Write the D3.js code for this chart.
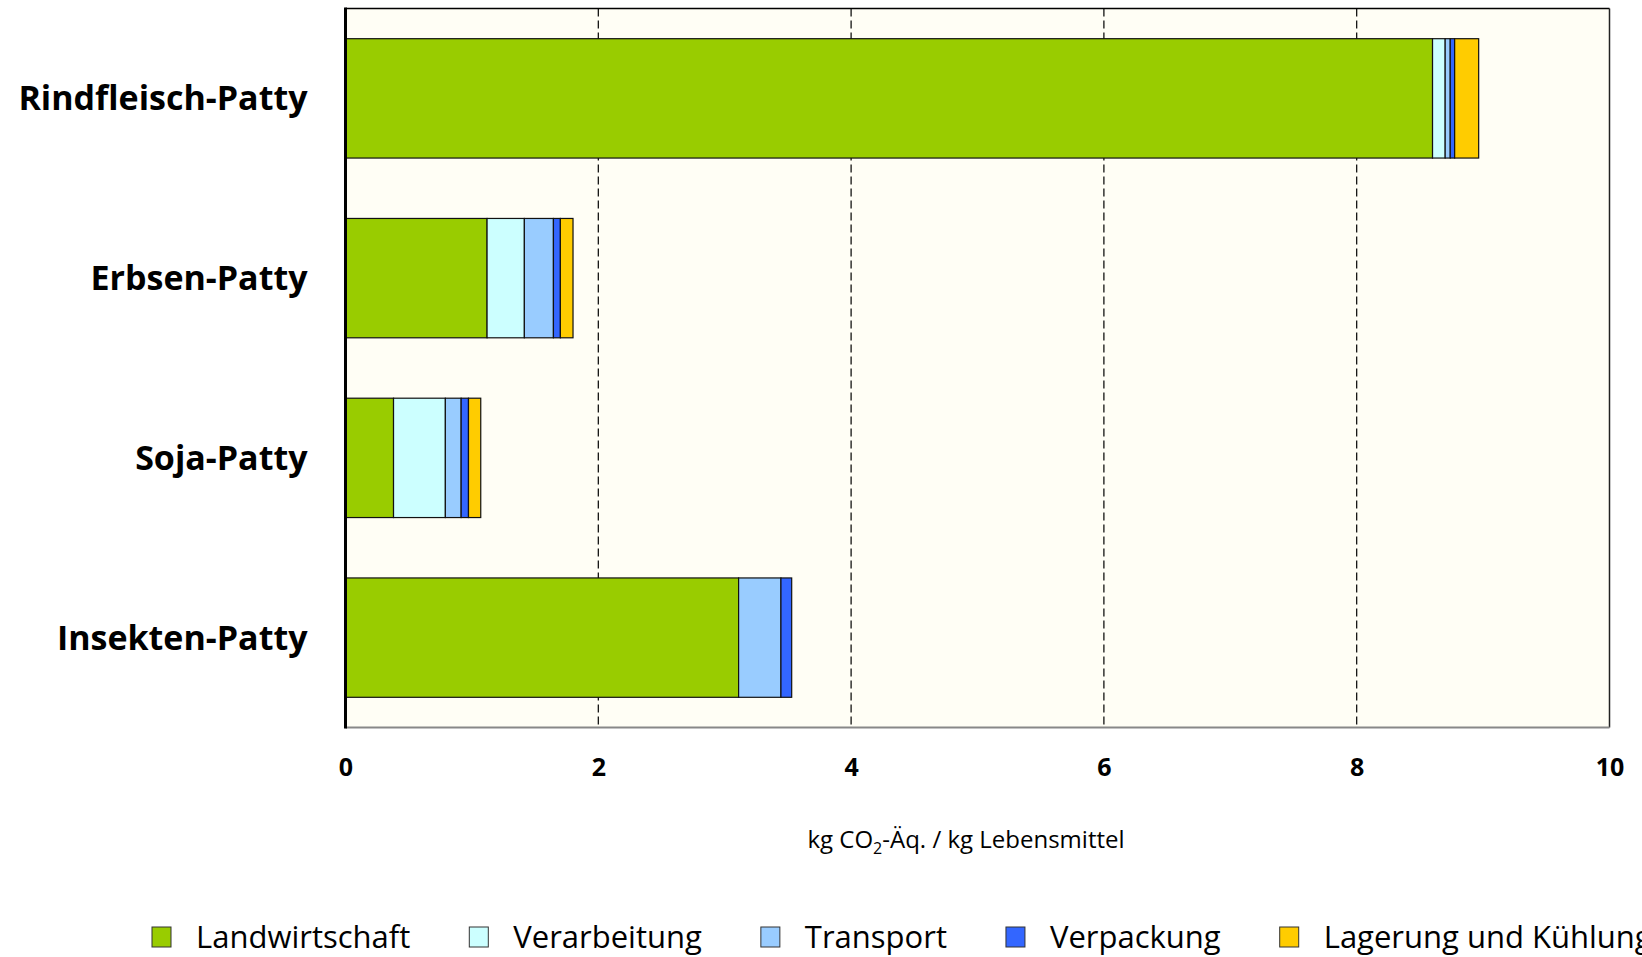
<!DOCTYPE html>
<html>
<head>
<meta charset="utf-8">
<script src="https://cdn.jsdelivr.net/npm/d3@7"></script>
<style>
  html, body { margin: 0; padding: 0; background: #ffffff; }
  svg { display: block; }
</style>
</head>
<body>
<svg id="chart" width="1642" height="957"></svg>
<script>
// Greenhouse-gas footprint of burger patties by life-cycle stage
const categories = ["Rindfleisch-Patty", "Erbsen-Patty", "Soja-Patty", "Insekten-Patty"];
const stages = ["Landwirtschaft", "Verarbeitung", "Transport", "Verpackung", "Lagerung und Kühlung"];
const landwirtschaft = [8.60, 1.12, 0.38, 3.11];
const verarbeitung   = [0.10, 0.295, 0.41, 0.00];
const transport      = [0.04, 0.23, 0.125, 0.335];
const verpackung     = [0.035, 0.055, 0.058, 0.085];
const lagerung       = [0.19, 0.10, 0.097, 0.00];
const xTicks = [0, 2, 4, 6, 8, 10];
const stageColors = ["#99CC00", "#CCFFFF", "#99CCFF", "#3366FF", "#FFCC00"];

const seriesValues = [landwirtschaft, verarbeitung, transport, verpackung, lagerung];
const rows = categories.map((c, i) => {
  const r = { category: c };
  stages.forEach((s, k) => { r[s] = seriesValues[k][i]; });
  return r;
});

const svg = d3.select("#chart");
const plot = { left: 345.5, right: 1609.5, top: 8.5, bottom: 727.5 };
const font = "'Open Sans', Lato, sans-serif";

const x = d3.scaleLinear().domain([0, 10]).range([plot.left, plot.right]);
const y = d3.scaleBand().domain(categories).range([plot.top, plot.bottom])
  .paddingInner(0.336).paddingOuter(0.168);

// plot background
svg.append("rect")
  .attr("x", plot.left).attr("y", plot.top)
  .attr("width", plot.right - plot.left).attr("height", plot.bottom - plot.top)
  .attr("fill", "#FFFEF5");

// dashed vertical gridlines
svg.append("g").selectAll("line")
  .data(xTicks.filter(t => t > 0 && t < 10))
  .join("line")
  .attr("x1", d => x(d)).attr("x2", d => x(d))
  .attr("y1", plot.top).attr("y2", plot.bottom)
  .attr("stroke", "#000").attr("stroke-width", 1.2)
  .attr("stroke-dasharray", "8,4");

// stacked bars
const stack = d3.stack().keys(stages)(rows);
svg.append("g").selectAll("g")
  .data(stack)
  .join("g")
  .attr("fill", (d, i) => stageColors[i])
  .selectAll("rect")
  .data(d => d.filter(p => p[1] - p[0] > 0))
  .join("rect")
  .attr("x", d => x(d[0]))
  .attr("y", d => y(d.data.category))
  .attr("width", d => x(d[1]) - x(d[0]))
  .attr("height", y.bandwidth())
  .attr("stroke", "#111").attr("stroke-width", 1.2);

// frame: thin top/right, grey bottom, heavy left axis
svg.append("line").attr("x1", plot.left).attr("x2", plot.right).attr("y1", plot.top).attr("y2", plot.top)
  .attr("stroke", "#000").attr("stroke-width", 1.5);
svg.append("line").attr("x1", plot.right).attr("x2", plot.right).attr("y1", plot.top).attr("y2", plot.bottom)
  .attr("stroke", "#222").attr("stroke-width", 1.5);
svg.append("line").attr("x1", plot.left).attr("x2", plot.right).attr("y1", plot.bottom).attr("y2", plot.bottom)
  .attr("stroke", "#888").attr("stroke-width", 2);
svg.append("line").attr("x1", plot.left).attr("x2", plot.left).attr("y1", plot.top - 1).attr("y2", plot.bottom + 1)
  .attr("stroke", "#000").attr("stroke-width", 3);

// x axis tick labels
const xAxis = d3.axisBottom(x).tickValues(xTicks).tickSize(0).tickPadding(0).tickFormat(d3.format("d"));
const gx = svg.append("g").attr("transform", `translate(0, ${plot.bottom})`).call(xAxis);
gx.select(".domain").remove();
gx.selectAll("text")
  .attr("y", 40).attr("dy", "0.35em")
  .attr("font-family", font).attr("font-weight", "bold").attr("font-size", 25).attr("fill", "#000");

// category labels
const yAxis = d3.axisLeft(y).tickSize(0).tickPadding(0);
const gy = svg.append("g").attr("transform", `translate(${plot.left}, 0)`).call(yAxis);
gy.select(".domain").remove();
gy.selectAll("text")
  .attr("x", -38).attr("dy", "0.35em")
  .attr("font-family", font).attr("font-weight", "bold").attr("font-size", 34).attr("fill", "#000");

// axis title
const title = svg.append("text")
  .attr("x", 966).attr("y", 848)
  .attr("text-anchor", "middle")
  .attr("font-family", font).attr("font-size", 24).attr("fill", "#000");
title.append("tspan").text("kg CO");
title.append("tspan").attr("font-size", 16).attr("dy", 6).text("2");
title.append("tspan").attr("dy", -6).text("-Äq. / kg Lebensmittel");

// legend
const legend = svg.append("g").attr("transform", "translate(152, 937)");
let cursor = 0;
stages.forEach((s, i) => {
  const g = legend.append("g").attr("transform", `translate(${cursor}, 0)`);
  g.append("rect").attr("x", 0).attr("y", -10).attr("width", 19).attr("height", 20)
    .attr("fill", stageColors[i]).attr("stroke", "#333").attr("stroke-width", 1);
  const t = g.append("text").attr("x", 44).attr("y", 0).attr("dy", "0.35em")
    .attr("font-family", font).attr("font-size", 31).attr("fill", "#000").text(s);
  cursor += 44 + t.node().getComputedTextLength() + 59;
});
</script>
</body>
</html>
